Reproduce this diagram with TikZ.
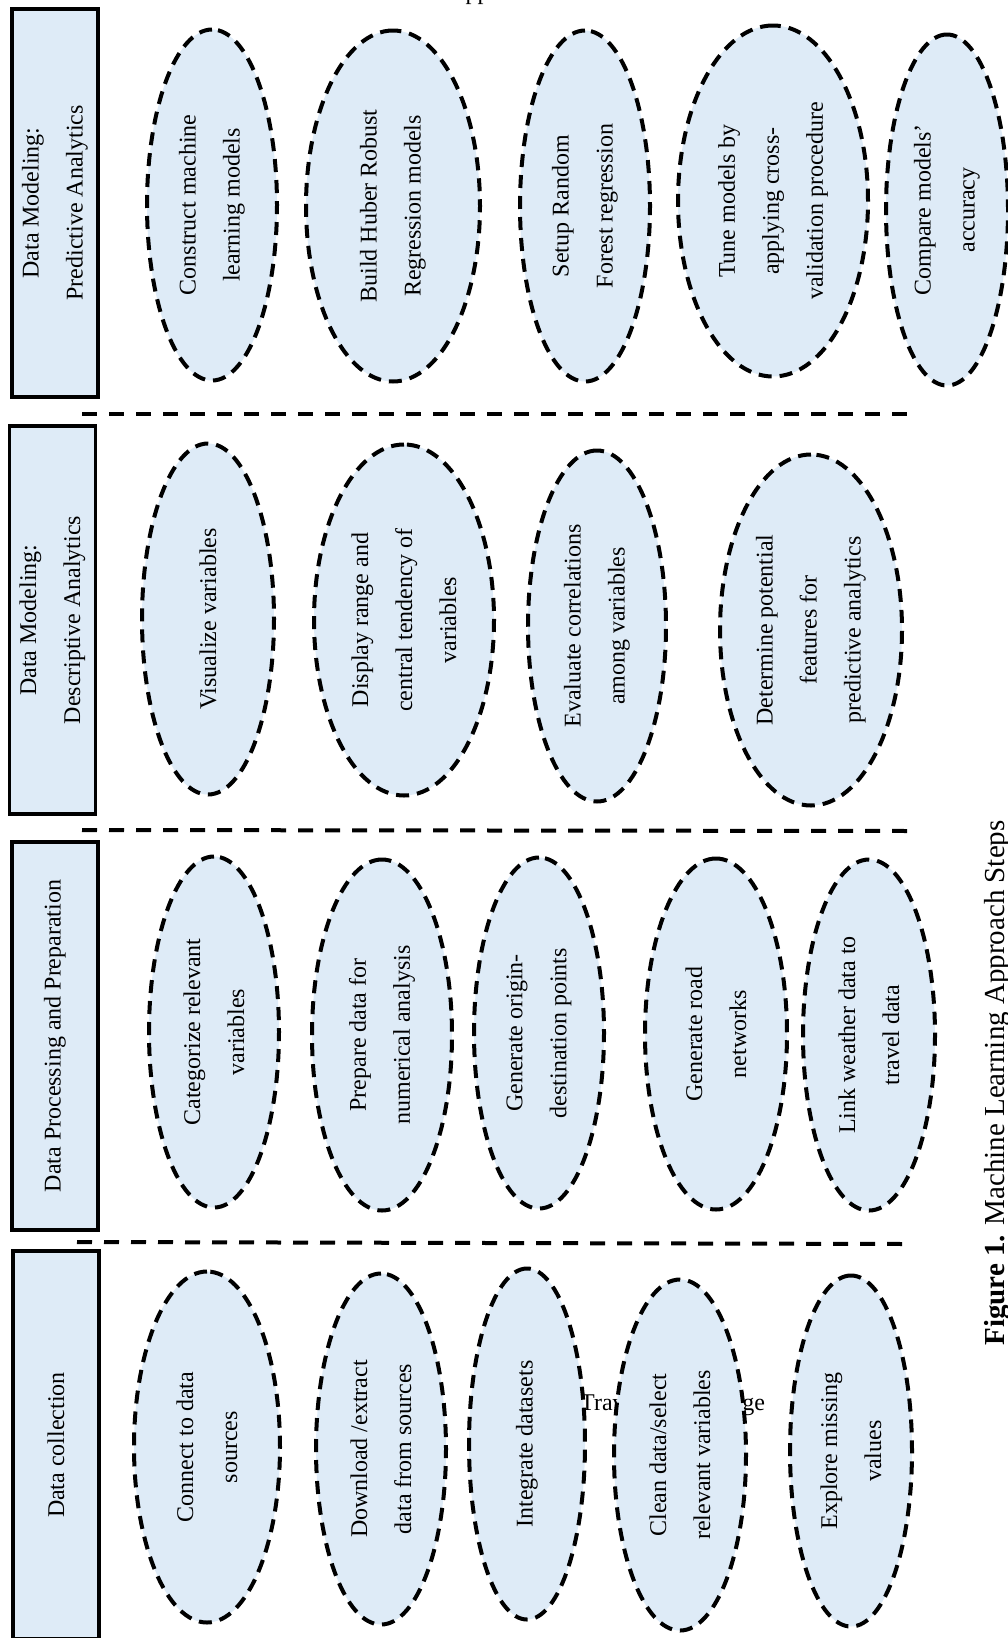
\documentclass[tikz,border=0pt]{standalone}
\usepackage{fontspec}
\setmainfont{Liberation Serif}
\usetikzlibrary{shapes.geometric}
\definecolor{LBlue}{HTML}{DEEBF7}
\tikzset{
    stage/.style={draw=black, line width=3.5pt, fill=LBlue, rotate=90, align=center,
        minimum width=388pt, minimum height=86pt, inner sep=0pt},
    stepoval/.style={ellipse, draw=black, line width=4pt, dash pattern=on 13pt off 8pt,
        fill=LBlue, rotate=90, align=center, minimum width=351pt},
    sepline/.style={black, line width=4pt, dash pattern=on 15pt off 12pt}
}
\NewDocumentCommand{\DrawStep}{O{130} m m m}{
    \node[stepoval, minimum height=#1pt] (#2) at (#3) {#4};
}

\begin{document}
\begin{tikzpicture}[x=1pt, y=-1pt, font=\fontsize{24}{44}\selectfont]

    \useasboundingbox (0,0) rectangle (1008,1638);

    \node[anchor=base west, inner sep=0pt] (headclip) at (448,-1) {Approach};

    \node[stage] (predbox) at (55,203) {Data Modeling:\\Predictive Analytics};
    \node[stage] (descbox) at (52.5,620) {Data Modeling:\\Descriptive Analytics};
    \node[stage] (prepbox) at (55,1036) {Data Processing and Preparation};
    \node[stage] (collbox) at (56,1445) {Data collection};

    \draw[sepline] (82,414) -- (912,414);
    \draw[sepline] (82,830) -- (913,831);
    \draw[sepline] (77,1242) -- (907,1244);

    \DrawStep[130]{pred1}{212,205}{Construct machine\\learning models}
    \DrawStep[174]{pred2}{393,206}{Build Huber Robust\\Regression models}
    \DrawStep[130]{pred3}{585,206}{Setup Random\\Forest regression}
    \DrawStep[190]{pred4}{773,201}{Tune models by\\applying cross-\\validation procedure}
    \DrawStep[122]{pred5}{947,210}{Compare models’\\accuracy}

    \DrawStep[132]{desc1}{208,619}{Visualize variables}
    \DrawStep[180]{desc2}{404,620}{Display range and\\central tendency of\\variables}
    \DrawStep[138]{desc3}{597,626}{Evaluate correlations\\among variables}
    \DrawStep[182]{desc4}{811,630}{Determine potential\\features for\\predictive analytics}

    \DrawStep[130]{prep1}{214,1032}{Categorize relevant\\variables}
    \DrawStep[140]{prep2}{382,1035}{Prepare data for\\numerical analysis}
    \DrawStep[130]{prep3}{539,1033}{Generate origin-\\destination points}
    \DrawStep[142]{prep4}{716,1034}{Generate road\\networks}
    \DrawStep[132]{prep5}{869,1035}{Link weather data to\\travel data}

    \node[anchor=base west, inner sep=0pt] (hiddenrange) at (580,1410) {Travel Time Range};

    \DrawStep[146]{coll1}{207,1447}{Connect to data\\sources}
    \DrawStep[130]{coll2}{381,1449}{Download /extract\\data from sources}
    \DrawStep[116]{coll3}{527,1444}{Integrate datasets}
    \DrawStep[132]{coll4}{680,1455}{Clean data/select\\relevant variables}
    \DrawStep[122]{coll5}{851,1451}{Explore missing\\values}

    \node[rotate=90, anchor=base, inner sep=0pt, font=\fontsize{29}{34}\selectfont] (caption)
        at (1004,1083) {\textbf{Figure 1.} Machine Learning Approach Steps};
\end{tikzpicture}
\end{document}
